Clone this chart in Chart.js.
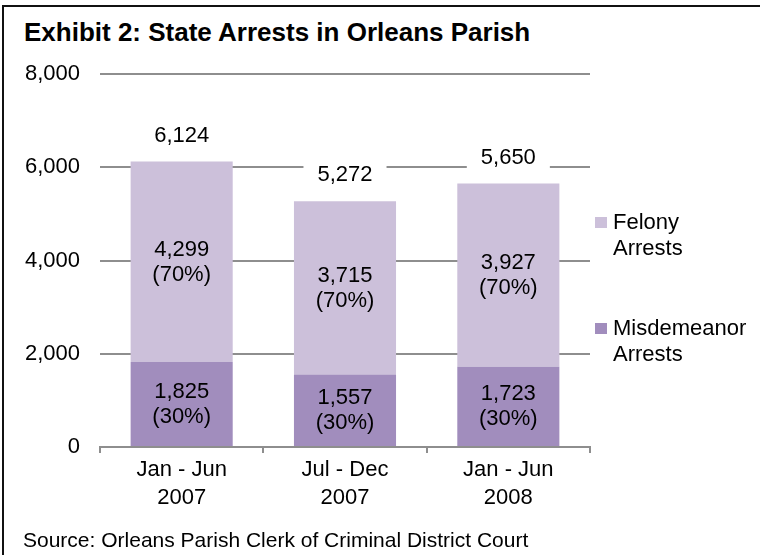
<!DOCTYPE html>
<html>
<head>
<meta charset="utf-8">
<script src="https://cdn.jsdelivr.net/npm/chart.js@4/dist/chart.umd.min.js"></script>
<style>
  html, body { margin: 0; padding: 0; background: #fff; }
  #wrap { position: relative; width: 760px; height: 555px; overflow: hidden; font-family: "Liberation Sans", Arial, sans-serif; }
  #frame { position: absolute; left: 2px; top: 5px; width: 800px; height: 600px; border-left: 2px solid #111; border-top: 2px solid #111; }
  #title { position: absolute; left: 24px; top: 19px; font-size: 26px; line-height: 26px; font-weight: bold; color: #000; white-space: nowrap; }
  #source { position: absolute; left: 23px; top: 528px; font-size: 21px; line-height: 24px; color: #000; white-space: nowrap; }
  #legend { position: absolute; left: 595px; top: 0; }
  .item { position: absolute; left: 0; width: 170px; font-size: 22px; line-height: 26px; color: #000; }
  .item span.box { position: absolute; left: 0; top: 8px; width: 12px; height: 11px; }
  .item span.txt { position: absolute; left: 18px; top: 0; white-space: nowrap; }
  canvas { position: absolute; left: 0; top: 0; }
</style>
</head>
<body>
<div id="wrap">
  <div id="frame"></div>
  <div id="title">Exhibit 2: State Arrests in Orleans Parish</div>
  <canvas id="chart" width="760" height="555"></canvas>
  <div id="legend"></div>
  <div id="source">Source: Orleans Parish Clerk of Criminal District Court</div>
</div>
<script>
'use strict';

// Periods (two-line labels)
const periods = [['Jan - Jun', '2007'], ['Jul - Dec', '2007'], ['Jan - Jun', '2008']];
const misdemeanor = [1825, 1557, 1723];
const felony = [4299, 3715, 3927];
const yTicks = [0, 2000, 4000, 6000, 8000];

const colFelony = '#ccc0da';
const colMisd = '#a18dbd';
const gridCol = '#8e8e8e';
const fontFam = '"Liberation Sans", Arial, sans-serif';

function fmt(n) {
    return n.toLocaleString('en-US');
}

// Labels inside segments plus totals on top
const barLabels = {
    id: 'barLabels',
    afterDatasetsDraw: function(chart) {
        const ctx = chart.ctx;
        ctx.save();
        ctx.font = '22px ' + fontFam;
        ctx.textAlign = 'center';
        ctx.textBaseline = 'middle';
        ctx.fillStyle = '#000';
        const totals = periods.map(function(_, i) { return misdemeanor[i] + felony[i]; });
        chart.data.datasets.forEach(function(ds, di) {
            const meta = chart.getDatasetMeta(di);
            meta.data.forEach(function(bar, i) {
                const v = ds.data[i];
                const pct = Math.round(v / totals[i] * 100);
                const cy = (bar.y + bar.base) / 2;
                ctx.fillText(fmt(v), bar.x, cy - 12);
                ctx.fillText('(' + pct + '%)', bar.x, cy + 13);
            });
        });
        // totals, on a white box that cuts the gridline
        const top = chart.getDatasetMeta(chart.data.datasets.length - 1);
        top.data.forEach(function(bar, i) {
            const txt = fmt(totals[i]);
            const w = ctx.measureText(txt).width + 28;
            const y = bar.y - 26;
            ctx.fillStyle = '#fff';
            ctx.fillRect(bar.x - w / 2, y - 14, w, 28);
            ctx.fillStyle = '#000';
            ctx.fillText(txt, bar.x, y);
        });
        ctx.restore();
    }
};

const ctx = document.getElementById('chart').getContext('2d');
const chart = new Chart(ctx, {
    type: 'bar',
    data: {
        labels: periods,
        datasets: [
            { label: 'Misdemeanor Arrests', legendLines: ['Misdemeanor', 'Arrests'], data: misdemeanor, backgroundColor: colMisd, categoryPercentage: 1, barPercentage: 0.625 },
            { label: 'Felony Arrests', legendLines: ['Felony', 'Arrests'], data: felony, backgroundColor: colFelony, categoryPercentage: 1, barPercentage: 0.625 }
        ]
    },
    options: {
        responsive: false,
        animation: false,
        layout: { padding: { left: 10, right: 170, top: 74, bottom: 20 } },
        plugins: {
            legend: { display: false },
            title: { display: false },
            tooltip: { enabled: false }
        },
        scales: {
            x: {
                stacked: true,
                afterFit: function(s) { s.height = 88; },
                grid: { offset: true, drawOnChartArea: false, drawTicks: true, tickLength: 6, color: gridCol, lineWidth: 2 },
                border: { color: gridCol, width: 2 },
                ticks: { color: '#000', padding: 3, font: { family: fontFam, size: 22, lineHeight: 1.27 } }
            },
            y: {
                stacked: true,
                min: 0,
                max: 8000,
                afterFit: function(s) { s.width = 90; },
                afterBuildTicks: function(s) { s.ticks = yTicks.map(function(v) { return { value: v }; }); },
                grid: { drawTicks: false, color: gridCol, lineWidth: 2 },
                border: { display: false },
                ticks: {
                    color: '#000',
                    padding: 20,
                    font: { family: fontFam, size: 22 },
                    callback: function(v) { return fmt(v); }
                }
            }
        }
    },
    plugins: [barLabels]
});

// HTML legend (felony listed first, as in the original)
const legend = document.getElementById('legend');
const legendTops = [209, 315];
chart.data.datasets.slice().reverse().forEach(function(ds, i) {
    const item = document.createElement('div');
    item.className = 'item';
    item.style.top = legendTops[i] + 'px';
    item.innerHTML = '<span class="box" style="background:' + ds.backgroundColor + '"></span>' +
        '<span class="txt">' + ds.legendLines.join('<br>') + '</span>';
    legend.appendChild(item);
});
</script>
</body>
</html>
